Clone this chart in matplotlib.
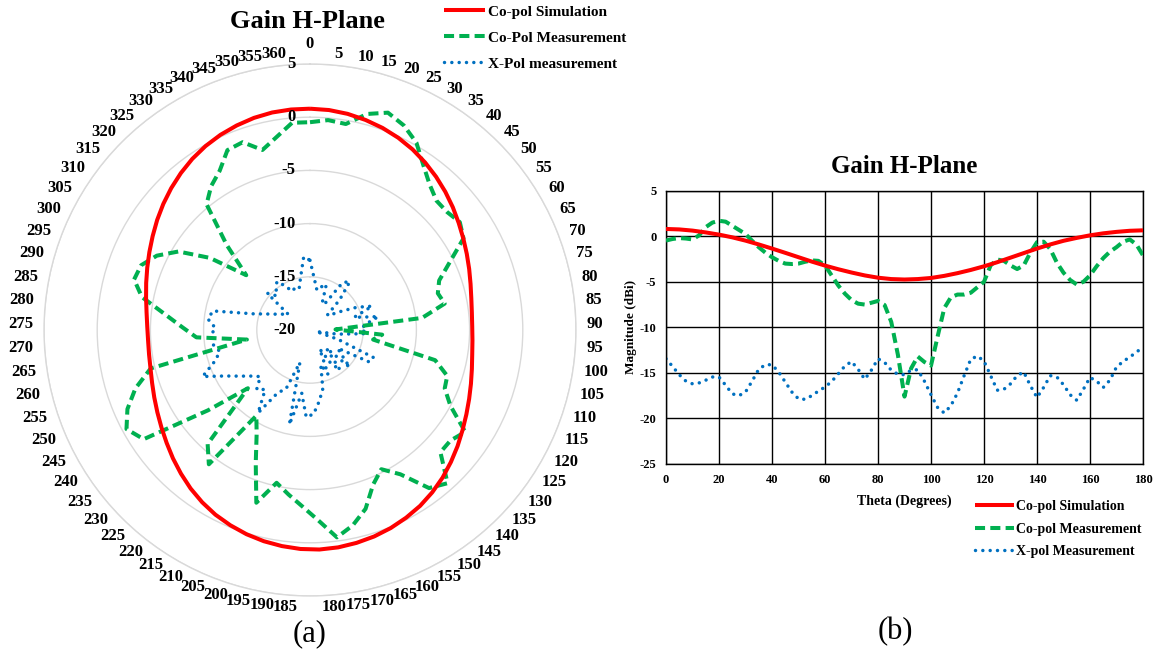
import numpy as np
import matplotlib
matplotlib.use("Agg")
import matplotlib.pyplot as plt

W, H, DPI = 1163, 653, 100
plt.rcParams['font.family'] = ['Liberation Serif', 'DejaVu Serif']
plt.rcParams['axes.unicode_minus'] = False

RED, GREEN, BLUE = '#FF0000', '#00B050', '#0070C0'
GRID_GRAY = '#D9D9D9'

# ---------------- data: (a) radar chart, categories 0..360 step 5 ----------------
polar_cats = [0, 5, 10, 15, 20, 25, 30, 35, 40, 45, 50, 55, 60, 65, 70, 75, 80, 85,
              90, 95, 100, 105, 110, 115, 120, 125, 130, 135, 140, 145, 150, 155, 160,
              165, 170, 175, 180, 185, 190, 195, 200, 205, 210, 215, 220, 225, 230, 235,
              240, 245, 250, 255, 260, 265, 270, 275, 280, 285, 290, 295, 300, 305, 310,
              315, 320, 325, 330, 335, 340, 345, 350, 355, 360]
polar_sim = [0.80, 0.75, 0.62, 0.42, 0.18, -0.12, -0.48, -0.90, -1.35, -1.82, -2.30, -2.78,
             -3.22, -3.62, -3.98, -4.30, -4.55, -4.70, -4.75, -4.70, -4.58, -4.35, -4.05,
             -3.70, -3.30, -2.85, -2.35, -1.85, -1.35, -0.90, -0.50, -0.18, 0.10, 0.32,
             0.48, 0.60, 0.65, 0.60, 0.48, 0.32, 0.10, -0.18, -0.50, -0.90, -1.35, -1.85,
             -2.35, -2.85, -3.30, -3.70, -4.05, -4.35, -4.58, -4.70, -4.75, -4.70, -4.55,
             -4.30, -3.98, -3.62, -3.22, -2.78, -2.30, -1.82, -1.35, -0.90, -0.48, -0.12,
             0.18, 0.42, 0.62, 0.75, 0.80]
polar_copol = [-0.47, -0.2, -0.35, 1.0, 1.7, 1.15, 0.25, -1.2, -2.3, -3.0, -3.0, -2.65,
               -3.2, -5.4, -7.0, -7.5, -7.1, -9.4, -17.6, -13.2, -14.0, -7.9, -6.4, -6.2,
               -5.0, -2.55, -3.2, -3.2, -0.65, -1.4, -4.0, -5.3, -4.3, -2.4, -1.2, -0.35,
               -2.1, -3.4, -4.4, -5.3, -3.0, -6.5, -9.0, -10.5, -4.2, -5.6, -12.0, -7.8,
               -1.3, -0.4, -1.3, -2.7, -4.6, -14.0, -9.3, -8.0, -6.3, -3.9, -2.8, -3.0,
               -4.0, -5.6, -8.4, -12.1, -8.8, -4.7, -3.6, -2.8, -1.4, -1.25, -2.5, -1.6,
               -0.45]
polar_xpol = [-13.45, -15.2, -16.2, -15.8, -15.45, -17.3, -17.1, -14.6, -14.1, -16.0,
              -17.85, -17.5, -16.55, -15.1, -13.75, -15.7, -13.45, -14.7, -15.2, -14.65,
              -17.4, -19.4, -17.2, -13.5, -13.7, -16.9, -16.2, -14.9, -17.7, -15.3, -16.3,
              -18.0, -15.5, -16.6, -14.35, -13.25, -12.1,
              -11.8, -14.0, -10.9, -16.8, -14.0, -13.4, -10.8, -13.0, -12.5, -13.6, -13.0,
              -12.1, -10.9, -9.0, -10.5, -11.3, -10.8, -10.6, -11.1, -10.35, -10.7, -14.5,
              -15.8, -16.6, -17.1, -17.5, -14.7, -15.5, -15.0, -14.5, -15.2, -16.0, -15.8,
              -16.0, -14.9, -13.1]
polar_rticks = [-20, -15, -10, -5, 0, 5]

# ---------------- data: (b) cartesian chart ----------------
theta_sim = [0, 5, 10, 15, 20, 25, 30, 35, 40, 45, 50, 55, 60, 65, 70, 75, 80, 85, 90,
             95, 100, 105, 110, 115, 120, 125, 130, 135, 140, 145, 150, 155, 160, 165,
             170, 175, 180]
sim_b = [0.80, 0.75, 0.62, 0.42, 0.18, -0.12, -0.48, -0.90, -1.35, -1.82, -2.30, -2.78,
         -3.22, -3.62, -3.98, -4.30, -4.55, -4.70, -4.75, -4.70, -4.58, -4.35, -4.05,
         -3.70, -3.30, -2.85, -2.35, -1.85, -1.35, -0.90, -0.50, -0.18, 0.10, 0.32, 0.48,
         0.60, 0.65]
theta_meas = np.arange(0, 180.01, 2.5)
copol_b = [-0.47, -0.3, -0.2, -0.25, -0.35, 0.1, 1.0, 1.5, 1.7, 1.6, 1.15, 0.7, 0.25,
           -0.5, -1.2, -1.8, -2.3, -2.7, -3.0, -3.05, -3.0, -2.8, -2.65, -2.7, -3.2,
           -4.3, -5.4, -6.3, -7.0, -7.4, -7.5, -7.3, -7.1, -7.55, -9.4, -13.0, -17.6,
           -14.5, -13.2, -13.8, -14.2, -11.0, -7.9, -6.7, -6.4, -6.4, -6.2, -5.6, -5.0,
           -3.2, -2.55, -2.7, -3.2, -3.6, -3.2, -1.8, -0.65, -0.6, -1.4, -2.9, -4.0,
           -4.8, -5.3, -5.0, -4.3, -3.3, -2.4, -1.7, -1.2, -0.6, -0.35, -0.9, -2.1]
xpol_b = [-13.45, -14.3, -15.2, -15.9, -16.2, -16.1, -15.8, -15.45, -15.45, -16.35,
          -17.3, -17.5, -17.1, -15.9, -14.6, -14.1, -14.1, -14.9, -16.0, -17.1, -17.85,
          -17.9, -17.5, -17.0, -16.55, -15.95, -15.1, -14.25, -13.75, -14.6, -15.7, -14.7,
          -13.45, -13.85, -14.7, -15.15, -15.2, -14.7, -14.65, -15.9, -17.4, -18.8, -19.4,
          -18.6, -17.2, -15.3, -13.5, -13.15, -13.7, -15.3, -16.9, -16.8, -16.2, -15.3,
          -14.9, -16.4, -17.7, -16.6, -15.3, -15.45, -16.3, -17.4, -18.0, -16.8, -15.5,
          -15.9, -16.6, -15.8, -14.35, -13.75, -13.25, -12.75, -12.1]
b_xticks = [0, 20, 40, 60, 80, 100, 120, 140, 160, 180]
b_yticks = [-25, -20, -15, -10, -5, 0, 5]

labels_a = ['Co-pol Simulation', 'Co-Pol Measurement', 'X-Pol measurement']
labels_b = ['Co-pol Simulation', 'Co-pol Measurement', 'X-pol Measurement']

# ---------------- styles ----------------
sim_style = dict(color=RED, lw=2.9, solid_capstyle='butt', solid_joinstyle='round')
meas_style = dict(color=GREEN, lw=2.9, linestyle=(0, (2.5, 1.3)), dash_capstyle='butt',
                  dash_joinstyle='round')
xpol_style = dict(color=BLUE, lw=2.5, linestyle=(0, (0.01, 2.1)), dash_capstyle='round')

fig = plt.figure(figsize=(W / DPI, H / DPI), dpi=DPI)
fig.patch.set_facecolor('white')

# ================= (a) polar / radar =================
CX, CY, R = 310, 330, 266           # pixel layout of the radar circle
ax = fig.add_axes([(CX - R) / W, (H - CY - R) / H, 2 * R / W, 2 * R / H],
                  projection='polar')
n = len(polar_cats)
ang = 2 * np.pi * np.arange(n) / n
ang_c = np.append(ang, 2 * np.pi)


def closed(v):
    return np.append(np.asarray(v, float), v[0])


ax.set_theta_zero_location('N')
ax.set_theta_direction(-1)
l1, = ax.plot(ang_c, closed(polar_sim), **sim_style, zorder=4)
l2, = ax.plot(ang_c, closed(polar_copol), **meas_style, zorder=3)
l3, = ax.plot(ang_c, closed(polar_xpol), **xpol_style, zorder=2)
ax.set_ylim(-20, 5)
ax.set_yticks(polar_rticks)
ax.set_yticklabels([])
ax.set_xticks([])
ax.yaxis.grid(True, color=GRID_GRAY, lw=1.0)
ax.spines['polar'].set_color(GRID_GRAY)
ax.spines['polar'].set_linewidth(1.0)
ax.set_facecolor('none')

# radial value labels (left of the vertical axis)
for rv in polar_rticks:
    py = CY - R * (rv - polar_rticks[0]) / (polar_rticks[-1] - polar_rticks[0])
    fig.text((CX - 14.5) / W, 1 - py / H, str(rv), ha='right', va='center',
             fontsize=12, fontweight='bold')

# category labels around the circle (Excel radar layout)
for k, cat in enumerate(polar_cats):
    a = ang[k]
    s, c = np.sin(a), np.cos(a)
    px = CX + (R + 11) * s
    py = CY - (R + 6) * c - 5.5 * c
    if k == 0:
        py -= 8
    ha = 'left' if s > 1e-6 else ('right' if s < -1e-6 else 'center')
    fig.text(px / W, 1 - py / H, str(cat), ha=ha, va='center', fontsize=12,
             fontweight='bold')

fig.text(307 / W, 1 - 21 / H, 'Gain H-Plane', ha='center', va='center',
         fontsize=19, fontweight='bold')
fig.legend([l1, l2, l3], labels_a, loc='upper left',
           bbox_to_anchor=(441 / W, 1 - 2 / H), frameon=False,
           prop=dict(family='Liberation Serif', weight='bold', size=11),
           handlelength=2.7, handletextpad=0.15, labelspacing=0.8,
           borderpad=0.2, borderaxespad=0)
fig.text(310 / W, 1 - 634 / H, '(a)', ha='center', va='center', fontsize=22)

# ================= (b) cartesian =================
bx0, bx1, by0, by1 = 666, 1143, 190.7, 464
axb = fig.add_axes([bx0 / W, 1 - by1 / H, (bx1 - bx0) / W, (by1 - by0) / H])
m1, = axb.plot(theta_sim, sim_b, **sim_style, zorder=4)
m2, = axb.plot(theta_meas, copol_b, **meas_style, zorder=3)
m3, = axb.plot(theta_meas, xpol_b, **xpol_style, zorder=2)
axb.set_xlim(0, 180)
axb.set_ylim(-25, 5)
axb.set_xticks(b_xticks)
axb.set_yticks(b_yticks)
axb.grid(True, color='black', lw=1.0)
axb.set_axisbelow(True)
for sp in axb.spines.values():
    sp.set_color('black')
    sp.set_linewidth(1.0)
axb.tick_params(length=0, labelsize=9, pad=7)
for t in axb.get_xticklabels() + axb.get_yticklabels():
    t.set_fontweight('bold')
axb.set_xlabel('Theta (Degrees)', fontsize=10, fontweight='bold', labelpad=6)
axb.set_ylabel('Magnitude (dBi)', fontsize=9.5, fontweight='bold', labelpad=2)
axb.set_title('Gain H-Plane', fontsize=18, fontweight='bold', pad=13)
fig.legend([m1, m2, m3], labels_b, loc='upper left',
           bbox_to_anchor=(972 / W, 1 - 497 / H), frameon=False,
           prop=dict(family='Liberation Serif', weight='bold', size=10),
           handlelength=2.8, handletextpad=0.15, labelspacing=0.7,
           borderpad=0.2, borderaxespad=0)
fig.text(895 / W, 1 - 632 / H, '(b)', ha='center', va='center', fontsize=22)

fig.savefig('out.png', dpi=DPI, facecolor='white')
